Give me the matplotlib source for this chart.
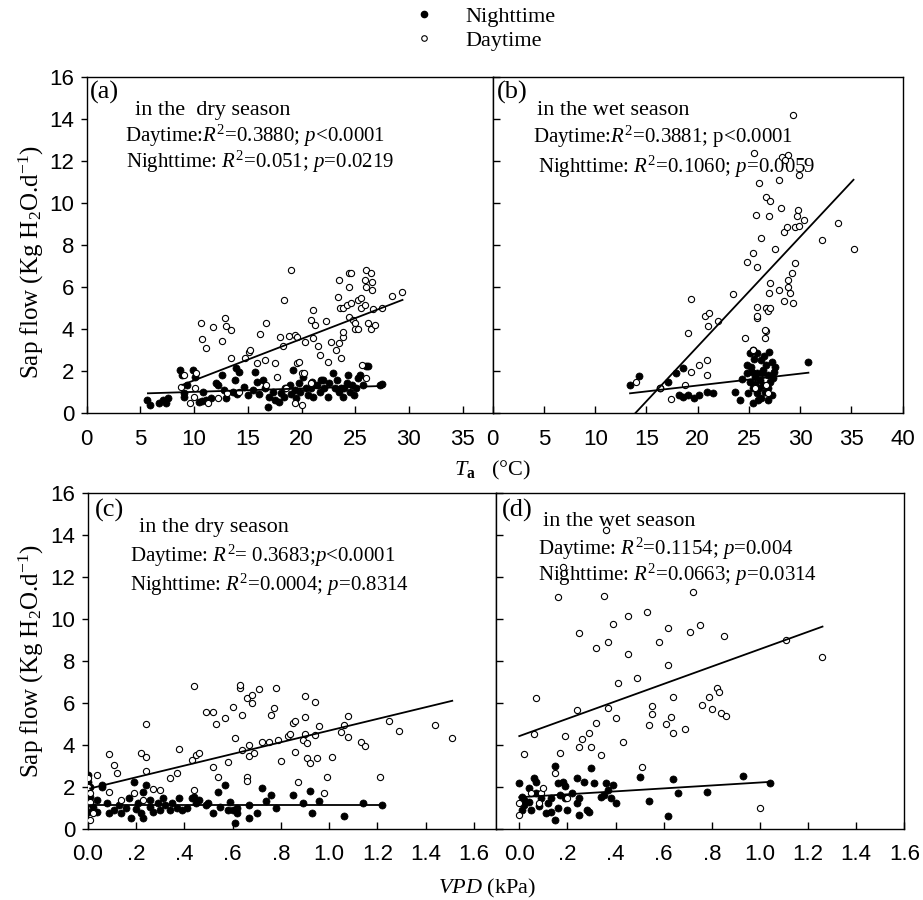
import matplotlib

matplotlib.use("Agg")
import matplotlib.pyplot as plt
from matplotlib.lines import Line2D
import numpy as np

plt.rcParams["font.family"] = ["Liberation Serif", "DejaVu Serif"]
plt.rcParams["mathtext.fontset"] = "custom"
plt.rcParams["mathtext.rm"] = "Liberation Serif"
plt.rcParams["mathtext.it"] = "Liberation Serif:italic"
plt.rcParams["mathtext.bf"] = "Liberation Serif:bold"

# ---- data: (x, sap flow) ----
# (a) Ta, dry season
dry_ta_day = [
    (10.6, 4.28), (10.75, 3.52), (11.15, 3.09), (11.8, 4.12), (12.6, 3.44), (12.9, 4.52), (13.0, 4.15),
    (13.4, 3.96), (13.4, 2.61), (15.1, 2.93), (15.2, 3.01), (14.7, 2.61), (16.1, 3.77), (16.7, 4.31),
    (15.9, 2.41), (16.6, 2.54), (17.5, 2.41), (18.0, 3.65), (18.4, 5.39), (19.0, 6.81), (18.8, 3.68),
    (19.4, 3.72), (19.6, 3.65), (18.3, 3.2), (19.6, 2.38), (19.8, 2.46), (20.0, 1.9), (20.3, 3.4),
    (20.9, 4.44), (21.1, 4.91), (21.1, 3.57), (21.3, 4.2), (21.5, 3.2), (21.7, 2.77), (22.3, 4.41),
    (22.5, 2.46), (22.7, 3.4), (23.2, 3.01), (23.5, 6.34), (23.4, 5.55), (23.6, 5.0), (23.9, 5.0),
    (23.5, 3.33), (23.7, 2.61), (23.9, 3.65), (23.9, 3.88), (24.4, 6.66), (24.6, 6.69), (24.4, 6.02),
    (24.2, 5.15), (24.6, 5.23), (24.4, 4.6), (24.8, 4.44), (25.0, 4.28), (25.0, 3.99), (25.3, 3.99),
    (25.3, 5.39), (25.5, 5.47), (25.5, 5.0), (25.9, 5.15), (26.0, 6.81), (25.9, 6.34), (26.5, 6.69),
    (26.6, 6.26), (26.6, 5.86), (26.0, 6.02), (26.2, 4.28), (26.5, 3.99), (26.8, 4.2), (26.7, 4.94),
    (27.5, 5.0), (28.4, 5.58), (29.4, 5.75), (25.6, 2.3), (26.0, 1.66), (9.1, 1.82), (10.2, 1.9),
    (8.8, 1.27), (9.6, 0.48), (10.0, 0.79), (10.1, 1.19), (11.3, 0.48), (12.2, 0.71), (13.1, 0.95),
    (14.2, 1.03), (16.7, 1.35), (20.0, 0.4), (19.4, 0.48), (20.2, 1.9), (20.9, 1.43), (18.6, 1.19),
    (17.7, 1.74),
]
dry_ta_night = [
    (5.6, 0.63), (5.9, 0.4), (6.7, 0.48), (7.1, 0.63), (7.4, 0.48), (7.6, 0.71), (8.7, 2.06), (8.9, 1.82),
    (9.1, 0.79), (9.1, 0.95), (9.3, 1.35), (9.9, 2.06), (10.1, 1.74), (10.5, 0.55), (10.8, 1.03),
    (11.1, 0.63), (11.6, 0.71), (12.0, 1.46), (12.2, 1.35), (12.6, 1.82), (13.0, 0.71), (13.6, 1.03),
    (13.8, 1.58), (13.9, 2.14), (14.2, 1.98), (14.6, 1.27), (15.0, 0.87), (15.5, 1.11), (15.7, 1.98),
    (15.9, 1.5), (16.4, 1.58), (16.6, 1.19), (16.9, 0.32), (17.0, 0.79), (17.3, 1.03), (17.5, 0.63),
    (17.9, 0.55), (18.1, 0.95), (18.4, 0.79), (18.9, 1.35), (19.2, 2.06), (19.4, 1.11), (19.5, 0.71),
    (19.8, 1.43), (20.1, 1.74), (20.4, 1.19), (20.6, 0.87), (21.1, 0.79), (21.4, 1.35), (21.7, 1.03),
    (21.8, 1.58), (22.1, 1.19), (22.5, 0.79), (22.6, 1.43), (22.9, 1.9), (23.1, 1.19), (23.3, 1.58),
    (23.7, 1.19), (23.9, 0.79), (24.2, 1.43), (24.3, 1.82), (24.5, 1.03), (24.7, 1.35), (24.9, 0.87),
    (25.1, 1.19), (25.3, 1.66), (25.4, 1.82), (25.7, 1.35), (26.0, 2.25), (26.2, 2.25), (27.3, 1.35),
    (27.5, 1.39), (18.5, 1.2), (19.9, 1.0), (20.9, 1.2), (22.0, 1.6), (23.5, 1.0), (24.0, 1.2),
    (21.0, 1.5), (16.0, 0.9), (14.0, 0.9), (12.8, 1.1), (10.7, 0.6), (19.0, 0.9),
]
# (b) Ta, wet season
wet_ta_day = [
    (14.0, 1.5), (16.3, 1.19), (17.4, 0.67), (18.8, 1.35), (19.3, 1.98), (20.1, 2.3), (20.9, 2.54),
    (20.9, 1.82), (19.1, 3.84), (19.3, 5.45), (20.7, 4.63), (21.1, 4.75), (21.0, 4.15), (22.0, 4.39),
    (23.4, 5.66), (24.6, 3.57), (24.8, 7.18), (25.4, 7.61), (25.8, 6.97), (25.4, 3.01), (25.8, 5.07),
    (25.8, 4.52), (25.7, 9.43), (26.2, 8.32), (25.8, 4.63), (26.6, 3.57), (26.7, 3.93), (26.7, 4.99),
    (26.9, 4.88), (27.1, 4.99), (27.0, 5.71), (27.1, 6.18), (26.6, 3.96), (25.5, 12.39), (26.0, 10.97),
    (26.7, 10.3), (27.1, 10.1), (27.0, 9.38), (27.9, 11.09), (28.1, 9.75), (27.5, 7.8), (27.9, 5.86),
    (28.4, 8.64), (28.4, 5.36), (28.7, 8.87), (28.8, 12.28), (28.2, 12.2), (28.5, 12.04), (29.3, 14.18),
    (29.9, 11.33), (29.5, 7.13), (28.8, 6.02), (29.0, 5.71), (29.3, 5.26), (28.8, 6.34), (29.2, 6.66),
    (29.8, 9.67), (29.7, 9.38), (29.5, 8.87), (29.9, 8.9), (30.4, 9.19), (32.1, 8.24), (33.7, 9.03),
    (35.2, 7.8), (26.7, 1.35), (26.9, 0.95), (25.6, 1.19),
]
wet_ta_night = [
    (13.4, 1.35), (14.3, 1.77), (16.3, 1.19), (17.1, 1.5), (17.9, 1.93), (18.6, 2.14), (18.2, 0.87),
    (18.6, 0.79), (19.1, 0.87), (19.6, 0.71), (20.1, 0.87), (20.9, 1.03), (21.5, 0.98), (23.6, 1.03),
    (24.1, 0.63), (24.3, 1.62), (24.8, 2.3), (25.1, 2.85), (25.4, 3.01), (25.8, 2.88), (25.3, 1.98),
    (25.6, 1.74), (25.1, 1.5), (25.4, 1.19), (25.8, 0.95), (25.9, 0.63), (25.4, 0.48), (26.2, 2.54),
    (26.4, 2.06), (26.7, 2.3), (26.9, 1.82), (27.2, 2.46), (27.4, 1.98), (27.5, 2.22), (27.1, 1.5),
    (26.1, 1.58), (26.4, 1.35), (26.6, 1.03), (26.9, 1.19), (27.2, 0.87), (26.9, 0.63), (26.2, 0.71),
    (25.8, 1.9), (24.8, 1.9), (24.9, 0.95), (30.8, 2.46), (25.5, 2.6), (26.5, 2.7), (27.0, 2.9),
    (25.2, 2.2), (26.0, 1.2), (27.3, 1.7), (26.3, 1.9), (25.6, 1.4),
]
# (c) VPD, dry season
dry_vpd_day = [
    (0.0, 2.41), (0.0, 2.01), (0.01, 1.7), (0.01, 1.3), (0.02, 0.75), (0.01, 0.43), (0.04, 2.57),
    (0.09, 3.57), (0.11, 3.04), (0.12, 2.65), (0.09, 1.78), (0.14, 1.38), (0.19, 1.7), (0.22, 3.63),
    (0.24, 3.44), (0.24, 5.0), (0.24, 2.78), (0.23, 1.38), (0.27, 1.89), (0.30, 1.86), (0.34, 2.41),
    (0.37, 2.68), (0.38, 3.79), (0.43, 3.28), (0.45, 3.52), (0.46, 3.63), (0.44, 1.86), (0.44, 6.8),
    (0.49, 5.58), (0.52, 5.58), (0.53, 5.0), (0.52, 2.93), (0.54, 2.46), (0.57, 5.27), (0.58, 3.2),
    (0.60, 5.82), (0.61, 4.31), (0.63, 6.69), (0.63, 6.85), (0.64, 5.42), (0.64, 3.76), (0.66, 6.22),
    (0.67, 4.0), (0.67, 3.47), (0.66, 2.49), (0.66, 2.3), (0.68, 6.37), (0.68, 5.98), (0.69, 3.6),
    (0.71, 6.64), (0.72, 4.15), (0.75, 4.15), (0.76, 5.42), (0.77, 5.74), (0.78, 6.69), (0.79, 4.23),
    (0.80, 3.25), (0.83, 4.42), (0.84, 4.52), (0.85, 5.03), (0.86, 5.15), (0.86, 3.68), (0.87, 2.25),
    (0.89, 4.23), (0.90, 5.34), (0.90, 6.33), (0.90, 4.52), (0.91, 4.08), (0.91, 3.36), (0.92, 3.12),
    (0.94, 6.06), (0.94, 4.47), (0.95, 3.36), (0.96, 4.9), (0.99, 2.49), (0.98, 1.7), (1.01, 3.44),
    (1.05, 4.63), (1.06, 4.95), (1.08, 4.39), (1.08, 5.39), (1.13, 4.15), (1.15, 3.95), (1.21, 2.46),
    (1.25, 5.15), (1.29, 4.68), (1.44, 4.95), (1.51, 4.31),
]
dry_vpd_night = [
    (0.0, 2.57), (0.0, 2.25), (0.01, 2.01), (0.01, 1.54), (0.01, 1.22), (0.0, 0.82), (0.02, 1.06),
    (0.04, 1.38), (0.04, 0.82), (0.06, 2.09), (0.06, 2.01), (0.08, 1.22), (0.09, 0.75), (0.11, 0.9),
    (0.13, 1.14), (0.14, 0.75), (0.16, 0.98), (0.17, 1.46), (0.18, 0.51), (0.19, 2.25), (0.20, 0.94),
    (0.21, 1.22), (0.22, 0.75), (0.23, 1.78), (0.23, 0.51), (0.24, 2.09), (0.26, 1.06), (0.26, 1.38),
    (0.27, 0.82), (0.29, 1.22), (0.30, 0.9), (0.31, 1.46), (0.32, 1.14), (0.34, 0.9), (0.35, 1.22),
    (0.37, 0.98), (0.38, 1.46), (0.39, 0.9), (0.41, 0.98), (0.43, 1.46), (0.44, 1.54), (0.45, 1.22),
    (0.46, 1.38), (0.49, 1.14), (0.50, 1.22), (0.52, 0.75), (0.54, 1.78), (0.55, 1.06), (0.57, 2.09),
    (0.58, 0.9), (0.59, 1.3), (0.60, 0.9), (0.61, 0.27), (0.62, 0.75), (0.62, 0.98), (0.67, 0.51),
    (0.67, 1.14), (0.70, 0.75), (0.72, 1.93), (0.74, 1.35), (0.76, 1.62), (0.78, 0.98), (0.85, 1.62),
    (0.89, 1.25), (0.92, 1.82), (0.93, 0.75), (0.96, 1.35), (1.06, 0.62), (1.14, 1.22), (1.22, 1.14),
]
# (d) VPD, wet season
wet_vpd_day = [
    (0.0, 0.67), (0.0, 1.25), (0.02, 3.57), (0.06, 4.52), (0.07, 6.22), (0.05, 1.7), (0.09, 1.7),
    (0.08, 1.25), (0.10, 1.93), (0.15, 2.65), (0.16, 11.02), (0.17, 3.6), (0.18, 12.45), (0.19, 4.42),
    (0.20, 1.46), (0.24, 5.66), (0.25, 9.34), (0.25, 3.89), (0.26, 4.27), (0.29, 4.55), (0.30, 3.89),
    (0.32, 8.6), (0.32, 5.06), (0.34, 3.52), (0.35, 11.08), (0.36, 14.22), (0.37, 5.74), (0.37, 8.91),
    (0.39, 9.75), (0.40, 5.26), (0.41, 6.96), (0.43, 4.15), (0.45, 10.13), (0.45, 8.33), (0.49, 7.17),
    (0.51, 2.97), (0.53, 10.31), (0.54, 4.95), (0.55, 5.85), (0.55, 5.47), (0.58, 8.91), (0.61, 5.0),
    (0.62, 9.55), (0.62, 7.8), (0.63, 5.31), (0.64, 6.26), (0.64, 4.58), (0.69, 4.74), (0.71, 9.39),
    (0.72, 11.29), (0.75, 9.7), (0.76, 5.9), (0.79, 6.3), (0.80, 5.69), (0.82, 6.69), (0.83, 6.53),
    (0.84, 5.5), (0.85, 9.18), (0.86, 5.39), (1.0, 0.98), (1.11, 8.99), (1.26, 8.2),
]
wet_vpd_night = [
    (0.0, 2.2), (0.01, 1.54), (0.01, 0.9), (0.02, 1.14), (0.02, 1.38), (0.04, 1.93), (0.04, 1.3),
    (0.05, 0.9), (0.06, 2.41), (0.07, 2.25), (0.07, 1.7), (0.08, 1.09), (0.09, 1.46), (0.11, 0.75),
    (0.12, 1.22), (0.13, 1.46), (0.13, 0.82), (0.15, 0.43), (0.15, 3.0), (0.16, 2.17), (0.16, 0.98),
    (0.17, 1.62), (0.18, 2.25), (0.19, 2.05), (0.19, 1.46), (0.20, 0.9), (0.22, 1.7), (0.24, 2.41),
    (0.24, 1.22), (0.25, 0.67), (0.25, 1.46), (0.27, 2.25), (0.28, 0.9), (0.29, 0.82), (0.30, 2.89),
    (0.31, 2.17), (0.34, 1.54), (0.35, 1.62), (0.36, 2.17), (0.37, 1.86), (0.38, 1.46), (0.39, 2.09),
    (0.40, 1.22), (0.50, 2.46), (0.54, 1.35), (0.62, 0.63), (0.64, 2.36), (0.66, 1.7), (0.78, 1.78),
    (0.93, 2.52), (1.04, 2.2),
]

# regression lines (x ends, y ends)
fit_lines = {
    "a": {"day": ([8.9, 29.4], [1.35, 5.39]), "night": ([5.7, 27.6], [0.95, 1.30])},
    "b": {"day": ([13.9, 35.2], [0.0, 11.1]), "night": ([13.4, 30.8], [0.95, 1.93])},
    "c": {"day": ([0.01, 1.51], [1.93, 6.1]), "night": ([0.01, 1.22], [1.14, 1.14])},
    "d": {"day": ([0.0, 1.26], [4.42, 9.63]), "night": ([0.0, 1.04], [1.51, 2.24])},
}

panel_texts = {
    "a": ["(a)", "in the  dry season", r"Daytime:$R^2$=0.3880; $p$<0.0001", r"Nighttime: $R^2$=0.051; $p$=0.0219"],
    "b": ["(b)", "in the wet season", r"Daytime:$R^2$=0.3881; p<0.0001", r"Nighttime: $R^2$=0.1060; $p$=0.0059"],
    "c": ["(c)", "in the dry season", r"Daytime: $R^2$= 0.3683;$p$<0.0001", r"Nighttime: $R^2$=0.0004; $p$=0.8314"],
    "d": ["(d)", "in the wet season", r"Daytime: $R^2$=0.1154; $p$=0.004", r"Nighttime: $R^2$=0.0663; $p$=0.0314"],
}

ta_ticks_a = [0, 5, 10, 15, 20, 25, 30, 35]
ta_ticks_b = [0, 5, 10, 15, 20, 25, 30, 35, 40]
vpd_ticks = [0.0, 0.2, 0.4, 0.6, 0.8, 1.0, 1.2, 1.4, 1.6]
vpd_tick_labels = ["0.0", ".2", ".4", ".6", ".8", "1.0", "1.2", "1.4", "1.6"]
sap_ticks = [0, 2, 4, 6, 8, 10, 12, 14, 16]

W, H = 923, 900
TICK_FONT = "Liberation Sans"


def px_axes(fig, left, top, right, bottom):
    """按像素坐标创建坐标轴。"""
    return fig.add_axes([left / W, 1 - bottom / H, (right - left) / W, (bottom - top) / H])


def draw_panel(ax, key, day, night, show_ylabels, text_pos):
    night = np.array(night)
    day = np.array(day)
    ax.scatter(night[:, 0], night[:, 1], s=26, c="black", edgecolors="black", linewidths=0.5, zorder=3)
    ax.scatter(day[:, 0], day[:, 1], s=20, facecolors="white", edgecolors="black", linewidths=0.8, zorder=4)
    for part in ("day", "night"):
        xs, ys = fit_lines[key][part]
        ax.plot(xs, ys, color="black", lw=1.3, zorder=5)

    ax.set_ylim(0, 16)
    ax.set_yticks(sap_ticks)
    ax.tick_params(axis="x", direction="in", length=5, width=1, pad=11, labelsize=16)
    if show_ylabels:
        ax.tick_params(axis="y", direction="out", length=4, width=1, pad=5, labelsize=16)
    else:
        ax.tick_params(axis="y", direction="in", length=5, width=1, labelleft=False)
    for lab in ax.get_xticklabels() + ax.get_yticklabels():
        lab.set_fontfamily(TICK_FONT)
    for sp in ax.spines.values():
        sp.set_linewidth(1.0)

    label, season, day_txt, night_txt = panel_texts[key]
    (lx, ly), (sx, sy), (dx, dy), (nx, ny) = text_pos
    ax.text(lx, ly, label, transform=ax.transAxes, fontsize=19, va="center", ha="left")
    ax.text(sx, sy, season, transform=ax.transAxes, fontsize=16, va="center", ha="left")
    ax.text(dx, dy, day_txt, transform=ax.transAxes, fontsize=15, va="center", ha="left")
    ax.text(nx, ny, night_txt, transform=ax.transAxes, fontsize=15, va="center", ha="left")


def main() -> None:
    fig = plt.figure(figsize=(W / 100, H / 100), dpi=100)

    ax_a = px_axes(fig, 86.7, 76.7, 492.7, 413.3)
    ax_b = px_axes(fig, 492.7, 76.7, 902.7, 413.3)
    ax_c = px_axes(fig, 87.7, 492.7, 495.7, 829.0)
    ax_d = px_axes(fig, 495.7, 492.7, 904.3, 829.0)

    draw_panel(ax_a, "a", dry_ta_day, dry_ta_night, True,
               [(0.008, 0.952), (0.119, 0.901), (0.095, 0.824), (0.097, 0.746)])
    draw_panel(ax_b, "b", wet_ta_day, wet_ta_night, False,
               [(0.01, 0.952), (0.109, 0.901), (0.098, 0.821), (0.111, 0.733)])
    draw_panel(ax_c, "c", dry_vpd_day, dry_vpd_night, True,
               [(0.018, 0.946), (0.126, 0.897), (0.104, 0.812), (0.104, 0.726)])
    draw_panel(ax_d, "d", wet_vpd_day, wet_vpd_night, False,
               [(0.015, 0.948), (0.115, 0.913), (0.104, 0.834), (0.104, 0.757)])

    ax_a.set_xlim(0, 37.8)
    ax_a.set_xticks(ta_ticks_a)
    ax_b.set_xlim(0, 40)
    ax_b.set_xticks(ta_ticks_b)
    for ax in (ax_c, ax_d):
        ax.set_xticks(vpd_ticks)
        ax.set_xticklabels(vpd_tick_labels, fontfamily=TICK_FONT)
    ax_c.set_xlim(0, 1.69)
    ax_d.set_xlim(-0.098, 1.6)

    ylab = r"Sap flow (Kg H$_2$O.d$^{-1}$)"
    fig.text(31 / W, 1 - 262 / H, ylab, rotation=90, ha="center", va="center", fontsize=18)
    fig.text(31 / W, 1 - 661 / H, ylab, rotation=90, ha="center", va="center", fontsize=18)
    fig.text(492 / W, 1 - 470 / H, r"$T_{\mathbf{a}}$   (°C)", ha="center", va="center", fontsize=16)
    fig.text(487 / W, 1 - 888 / H, r"$VPD$ (kPa)", ha="center", va="center", fontsize=16)

    handles = [
        Line2D([], [], ls="none", marker="o", ms=4.5, mfc="black", mec="black"),
        Line2D([], [], ls="none", marker="o", ms=4, mfc="white", mec="black", mew=0.8),
    ]
    fig.legend(handles, ["Nighttime", "Daytime"], loc="upper left", bbox_to_anchor=(393 / W, 1.015),
               frameon=False, fontsize=16, handletextpad=1.35, labelspacing=0.15, handlelength=1.0)

    fig.savefig("out.png", dpi=100)
    plt.close(fig)


if __name__ == "__main__":
    main()
